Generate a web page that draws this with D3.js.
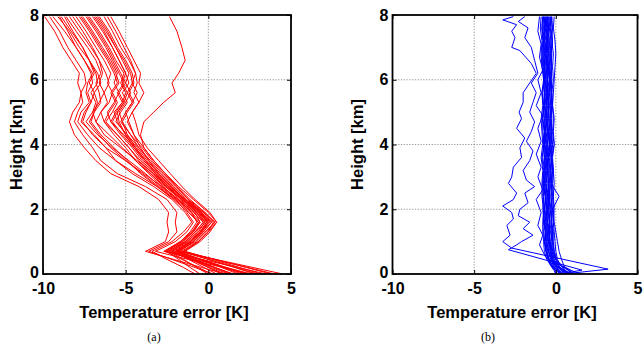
<!DOCTYPE html>
<html><head><meta charset="utf-8">
<script src="https://cdn.jsdelivr.net/npm/d3@7"></script>
<style>body{margin:0;background:#fff}svg{display:block}</style>
</head><body>
<svg id="c" width="643" height="351"></svg>
<script>
const xTicks = [-10, -5, 0, 5];
const yTicks = [0, 2, 4, 6, 8];
const xLabel = "Temperature error [K]";
const yLabel = "Height [km]";
const captions = ["(a)", "(b)"];

// Panel (a): shared height grid (km) and temperature error profiles (K)
const heightsA = [0, 0.2, 0.45, 0.7, 1.0, 1.3, 1.6, 1.9, 2.3, 2.7, 3.1, 3.5, 3.9, 4.3, 4.7, 5.0, 5.3, 5.6, 5.9, 6.2, 6.6, 7.0, 7.5, 7.95];
const profilesA = [
  [1.0, -0.4, -2.1, -3.8, -2.6, -2.4, -2.5, -2.4, -3.0, -4.2, -5.9, -6.8, -7.5, -8.1, -8.4, -8.2, -7.8, -7.7, -7.9, -7.8, -8.3, -8.8, -9.3, -9.9],
  [0.3, -0.8, -2.2, -3.6, -2.4, -1.9, -2.0, -1.9, -2.5, -3.8, -5.5, -6.5, -7.0, -7.6, -8.1, -7.9, -7.6, -7.7, -7.4, -7.5, -8.0, -8.5, -9.0, -9.6],
  [2.5, 0.9, -1.2, -3.2, -2.0, -1.3, -0.9, -1.3, -2.0, -3.1, -4.4, -5.6, -6.6, -7.3, -7.9, -7.7, -7.2, -7.4, -7.3, -7.0, -7.5, -8.0, -8.7, -9.4],
  [3.5, 1.8, -0.4, -2.6, -1.6, -0.9, -0.5, -1.0, -1.8, -2.8, -3.9, -5.0, -6.2, -7.0, -7.6, -7.4, -7.1, -6.9, -7.2, -6.9, -7.2, -7.8, -8.4, -9.1],
  [1.5, 0.4, -0.9, -2.2, -1.4, -0.8, -0.3, -0.9, -1.9, -2.9, -3.8, -4.8, -5.8, -6.7, -7.4, -7.0, -6.8, -7.1, -6.7, -6.8, -7.2, -7.6, -8.3, -8.9],
  [0.0, -0.7, -1.5, -2.4, -1.5, -0.9, -0.6, -1.2, -2.1, -3.1, -4.1, -4.9, -5.7, -6.5, -7.1, -6.9, -6.5, -6.6, -6.8, -6.5, -6.8, -7.3, -8.0, -8.6],
  [4.5, 2.7, 0.45, -1.8, -0.8, -0.2, 0.4, -0.3, -1.4, -2.4, -3.3, -4.3, -5.3, -6.3, -6.8, -7.0, -6.6, -6.3, -6.6, -6.4, -6.6, -7.1, -7.8, -8.4],
  [2.0, 0.9, -0.6, -2.0, -1.1, -0.5, -0.1, -0.7, -1.6, -2.6, -3.5, -4.4, -5.2, -6.0, -6.8, -6.5, -6.1, -6.3, -6.0, -6.2, -6.6, -7.0, -7.6, -8.2],
  [1.0, 0.05, -1.1, -2.3, -1.3, -0.6, -0.2, -0.8, -1.8, -2.8, -3.6, -4.4, -5.0, -5.7, -6.3, -6.5, -6.0, -5.8, -6.1, -5.9, -6.3, -6.8, -7.4, -8.0],
  [3.0, 1.65, 0.0, -1.7, -0.9, -0.3, 0.2, -0.5, -1.5, -2.5, -3.4, -4.1, -4.8, -5.5, -6.3, -6.0, -5.6, -5.9, -5.5, -5.7, -6.1, -6.6, -7.2, -7.8],
  [0.5, -0.25, -1.2, -2.1, -1.2, -0.5, 0.0, -0.6, -1.6, -2.5, -3.3, -4.0, -4.6, -5.3, -5.9, -6.1, -5.7, -5.4, -5.7, -5.5, -5.9, -6.4, -7.0, -7.6],
  [2.2, 1.0, -0.45, -1.9, -1.0, -0.4, 0.1, -0.4, -1.4, -2.3, -3.1, -3.8, -4.4, -5.1, -5.9, -5.6, -5.2, -5.5, -5.1, -5.4, -5.8, -6.2, -6.8, -7.4],
  [1.2, 0.2, -1.0, -2.2, -1.3, -0.7, -0.2, -0.6, -1.5, -2.2, -3.0, -3.7, -4.3, -5.0, -5.5, -5.7, -5.2, -5.0, -5.3, -5.1, -5.6, -6.0, -6.6, -7.2],
  [4.0, 2.4, 0.4, -1.6, -0.7, -0.1, 0.4, -0.2, -1.2, -2.0, -2.8, -3.5, -4.2, -4.9, -5.6, -5.3, -4.9, -5.2, -4.8, -5.0, -5.4, -5.8, -6.4, -7.0],
  [-0.5, -1.1, -1.8, -2.5, -1.6, -1.0, -0.5, -0.8, -1.7, -2.6, -3.2, -3.8, -4.4, -4.9, -5.2, -5.4, -5.0, -4.7, -5.0, -4.8, -5.2, -5.6, -6.2, -6.8],
  [1.8, 0.8, -0.5, -1.8, -0.9, -0.3, 0.2, -0.3, -1.3, -2.1, -2.9, -3.6, -4.2, -4.7, -5.2, -4.9, -4.5, -4.8, -4.5, -4.6, -5.0, -5.5, -6.0, -6.6],
  [2.8, 1.6, 0.0, -1.5, -0.6, 0.0, 0.5, 0.0, -0.9, -1.8, -2.6, -3.3, -3.9, -4.5, -4.8, -5.0, -4.6, -4.3, -4.6, -4.4, -4.8, -5.3, -5.8, -6.3],
  [0.8, 0.0, -1.0, -2.0, -1.1, -0.5, -0.1, -0.5, -1.4, -2.2, -3.0, -3.6, -4.1, -4.5, -4.9, -4.6, -4.2, -4.5, -4.3, -4.4, -4.7, -5.1, -5.6, -6.1],
  [3.2, 1.9, 0.25, -1.4, -0.5, 0.1, 0.5, 0.1, -0.8, -1.6, -2.3, -3.0, -3.7, -4.2, -4.4, -4.6, -4.2, -3.9, -4.2, -4.1, -4.5, -4.9, -5.4, -5.9],
  [1.5, 0.4, -1.0, -2.4, -1.4, -0.8, -0.3, -0.7, -1.6, -2.4, -3.2, -3.9, -4.5, -5.2, -5.8, -5.5, -5.1, -5.4, -5.0, -5.3, -5.7, -6.1, -6.7, -7.3],
  [2.3, 1.1, -0.4, -1.9, -1.1, -0.4, 0.0, -0.4, -1.2, -1.9, -2.6, -3.3, -3.9, -4.1, -3.9, -3.3, -2.7, -2.0, -2.2, -1.8, -1.4, -1.6, -1.9, -2.35],
  [2.6, 1.1, -0.8, -2.7, -1.7, -1.0, -0.6, -1.1, -2.0, -3.0, -4.0, -5.0, -5.9, -6.6, -7.2, -6.9, -6.7, -6.9, -6.5, -6.7, -7.2, -7.6, -8.2, -8.7],
  [0.2, -0.6, -1.6, -2.6, -1.7, -1.1, -0.7, -1.0, -1.9, -2.7, -3.5, -4.2, -4.8, -5.5, -6.2, -5.8, -5.5, -5.8, -5.4, -5.6, -6.0, -6.5, -7.1, -7.7],
  [3.8, 2.3, 0.4, -1.5, -0.6, 0.0, 0.3, -0.2, -1.1, -1.9, -2.7, -3.4, -4.0, -4.7, -5.3, -5.0, -4.6, -4.9, -4.6, -4.7, -5.1, -5.6, -6.1, -6.7],
  [-0.8, -1.5, -2.5, -3.4, -2.2, -1.5, -1.0, -1.4, -2.2, -3.3, -4.6, -5.6, -6.2, -6.9, -7.7, -7.5, -7.1, -7.3, -7.0, -7.1, -7.5, -8.0, -8.5, -9.0],
  [1.3, 0.4, -0.8, -1.9, -1.0, -0.4, 0.0, -0.5, -1.4, -2.3, -3.1, -3.8, -4.5, -5.0, -5.4, -5.5, -5.1, -4.9, -5.2, -5.0, -5.4, -5.8, -6.3, -6.9]
];

// Panel (b): bundle of profiles on a shared grid
const heightsB = [0, 0.1, 0.25, 0.45, 0.7, 1.0, 1.3, 1.6, 2.0, 2.4, 2.8, 3.2, 3.6, 4.0, 4.4, 4.8, 5.2, 5.6, 6.0, 6.4, 6.8, 7.2, 7.6, 7.95];
const profilesB = [
  [0.1, 0.0, -0.3, -0.55, -0.7, -0.75, -0.8, -0.8, -0.75, -0.85, -0.85, -0.8, -0.9, -0.8, -0.85, -0.9, -0.8, -0.85, -0.75, -0.85, -0.9, -0.85, -0.95, -0.9],
  [0.5, 0.2, -0.2, -0.45, -0.6, -0.7, -0.75, -0.7, -0.8, -0.75, -0.8, -0.75, -0.85, -0.7, -0.8, -0.8, -0.75, -0.85, -0.7, -0.8, -0.85, -0.8, -0.85, -0.8],
  [0.9, 0.5, 0.0, -0.4, -0.6, -0.65, -0.6, -0.75, -0.7, -0.65, -0.8, -0.7, -0.7, -0.75, -0.7, -0.8, -0.7, -0.7, -0.75, -0.7, -0.8, -0.7, -0.8, -0.75],
  [0.3, 0.1, -0.2, -0.4, -0.55, -0.6, -0.65, -0.6, -0.7, -0.6, -0.7, -0.65, -0.65, -0.7, -0.7, -0.65, -0.7, -0.65, -0.7, -0.65, -0.75, -0.7, -0.7, -0.75],
  [1.0, 0.6, 0.1, -0.3, -0.45, -0.55, -0.5, -0.65, -0.55, -0.6, -0.7, -0.6, -0.6, -0.65, -0.6, -0.7, -0.6, -0.6, -0.65, -0.6, -0.7, -0.6, -0.75, -0.65],
  [0.2, 0.1, -0.15, -0.3, -0.45, -0.5, -0.55, -0.5, -0.6, -0.5, -0.65, -0.55, -0.6, -0.55, -0.65, -0.55, -0.6, -0.55, -0.6, -0.55, -0.65, -0.6, -0.6, -0.65],
  [0.7, 0.4, 0.0, -0.25, -0.4, -0.45, -0.4, -0.55, -0.5, -0.45, -0.6, -0.5, -0.5, -0.55, -0.5, -0.6, -0.5, -0.5, -0.55, -0.5, -0.6, -0.5, -0.6, -0.55],
  [0.0, -0.05, -0.1, -0.25, -0.35, -0.4, -0.45, -0.4, -0.5, -0.4, -0.5, -0.45, -0.55, -0.4, -0.5, -0.5, -0.45, -0.55, -0.4, -0.5, -0.5, -0.55, -0.5, -0.55],
  [0.6, 0.35, 0.05, -0.2, -0.3, -0.45, -0.35, -0.5, -0.4, -0.5, -0.45, -0.5, -0.45, -0.5, -0.45, -0.55, -0.4, -0.5, -0.5, -0.45, -0.55, -0.45, -0.6, -0.5],
  [0.4, 0.25, 0.0, -0.15, -0.3, -0.35, -0.4, -0.35, -0.45, -0.35, -0.45, -0.4, -0.45, -0.35, -0.45, -0.4, -0.45, -0.4, -0.35, -0.45, -0.4, -0.5, -0.45, -0.5],
  [0.8, 0.5, 0.15, -0.1, -0.25, -0.3, -0.25, -0.4, -0.3, -0.4, -0.35, -0.3, -0.4, -0.35, -0.4, -0.35, -0.3, -0.4, -0.35, -0.4, -0.35, -0.4, -0.45, -0.4],
  [0.2, 0.15, 0.05, -0.1, -0.2, -0.25, -0.3, -0.25, -0.3, -0.25, -0.35, -0.3, -0.3, -0.35, -0.3, -0.35, -0.3, -0.3, -0.35, -0.3, -0.35, -0.3, -0.4, -0.35],
  [1.2, 0.8, 0.3, 0.0, -0.15, -0.2, -0.15, -0.25, -0.2, 0.2, -0.3, -0.2, -0.25, -0.2, -0.25, -0.3, -0.2, -0.25, -0.3, -0.25, -0.3, -0.2, -0.35, -0.3],
  [0.5, 0.35, 0.15, 0.0, -0.1, -0.15, -0.2, -0.15, -0.2, -0.15, -0.2, -0.15, -0.25, -0.1, -0.2, -0.15, -0.2, -0.25, -0.15, -0.2, -0.15, -0.25, -0.2, -0.25],
  [0.9, 0.6, 0.3, 0.1, 0.0, -0.05, -0.1, -0.15, -0.1, -0.15, -0.1, -0.15, -0.2, -0.1, -0.15, -0.1, -0.2, -0.15, -0.1, -0.05, 0.0, -0.05, -0.15, -0.1],
  [0.0, -0.1, -0.3, -0.45, -0.5, -0.6, -0.55, -0.7, -0.6, -0.65, -0.75, -0.6, -0.7, -0.6, -0.7, -0.65, -0.6, -0.7, -0.6, -0.7, -0.65, -0.75, -0.7, -0.7],
  [1.5, 1.0, 0.4, 0.0, -0.2, -0.35, -0.45, -0.6, -0.5, -0.55, -0.6, -0.5, -0.6, -0.5, -0.6, -0.55, -0.55, -0.6, -0.5, -0.55, -0.6, -0.55, -0.65, -0.6],
  [0.3, 0.2, -0.05, -0.2, -0.3, -0.4, -0.35, -0.4, -0.35, -0.45, -0.4, -0.35, -0.45, -0.4, -0.35, -0.45, -0.4, -0.45, -0.4, -0.4, -0.45, -0.4, -0.5, -0.45],
  [0.7, 0.45, 0.2, 0.05, -0.1, -0.2, -0.2, -0.3, -0.25, -0.3, -0.25, -0.3, -0.25, -0.3, -0.25, -0.3, -0.25, -0.3, -0.25, -0.3, -0.25, -0.3, -0.3, -0.3],
  [0.4, 0.1, -0.25, -0.5, -0.6, -0.7, -0.65, -0.75, -0.7, -0.8, -0.75, -0.7, -0.8, -0.75, -0.7, -0.8, -0.75, -0.8, -0.7, -0.75, -0.8, -0.75, -0.85, -0.8],
  [1.0, 0.8, 0.5, 0.35, 0.2, 0.1, 0.0, -0.1, -0.15, -0.2, -0.25, -0.2, -0.3, -0.25, -0.3, -0.25, -0.3, -0.25, -0.3, -0.25, -0.3, -0.2, -0.3, -0.25]
];

// Panel (b): three jagged outlier profiles, each with its own heights
const outlierHeightsB = [
  [0, 0.15, 0.8, 1.0, 1.2, 1.5, 1.7, 1.9, 2.1, 2.3, 2.5, 2.8, 3.0, 3.3, 3.6, 3.9, 4.2, 4.5, 4.8, 5.0, 5.3, 5.6, 5.9, 6.2, 6.5, 6.9, 7.0, 7.3, 7.5, 7.7, 7.85, 7.95],
  [0, 0.12, 0.75, 0.9, 1.0, 1.2, 1.4, 1.6, 1.8, 2.0, 2.2, 2.5, 2.7, 2.9, 3.2, 3.5, 3.8, 4.1, 4.4, 4.7, 5.0, 5.3, 5.6, 5.9, 6.2, 6.6, 7.0, 7.3, 7.6, 7.8, 7.95],
  [0, 0.1, 0.5, 0.9, 1.2, 1.5, 1.9, 2.3, 2.6, 3.0, 3.3, 3.7, 4.1, 4.5, 4.9, 5.2, 5.6, 6.0, 6.3, 6.7, 7.1, 7.5, 7.95]
];
const outlierValuesB = [
  [0.5, 3.2, -2.7, -3.25, -2.8, -3.0, -2.6, -2.7, -3.25, -2.6, -2.4, -2.9, -2.7, -2.6, -2.1, -2.2, -1.9, -2.4, -2.1, -2.25, -2.0, -2.0, -1.6, -1.2, -1.5, -2.2, -2.7, -2.5, -2.7, -2.4, -3.25, -2.6],
  [0.3, 1.6, -2.9, -2.4, -2.1, -1.4, -2.0, -1.6, -2.3, -2.2, -1.7, -1.9, -1.3, -1.8, -2.0, -1.6, -1.4, -1.8, -1.5, -1.3, -1.6, -1.4, -1.2, -1.5, -1.1, -1.3, -1.5, -1.9, -1.7, -2.3, -1.9],
  [0.6, 0.9, -0.6, -1.0, -0.8, -1.1, -0.9, -1.2, -0.8, -1.1, -0.9, -1.2, -0.9, -1.1, -0.8, -1.2, -0.9, -1.1, -0.8, -1.0, -0.9, -1.1, -1.0]
];

const svg = d3.select("#c");
const FONT = "'Liberation Sans', Arial, sans-serif";

function panel(opts) {
  const { left, right, top, bottom, series, color, caption, yLabelX } = opts;
  const x = d3.scaleLinear().domain([-10, 5]).range([left, right]);
  const y = d3.scaleLinear().domain([0, 8]).range([bottom, top]);
  const g = svg.append("g");
  const clipId = "clip" + caption.replace(/\W/g, "");
  svg.append("clipPath").attr("id", clipId).append("rect")
    .attr("x", left).attr("y", top).attr("width", right - left).attr("height", bottom - top);

  // grid
  const grid = g.append("g").attr("stroke", "#777").attr("stroke-width", 0.8).attr("stroke-dasharray", "1.2,1.6");
  xTicks.filter(t => t > -10 && t < 5).forEach(t =>
    grid.append("line").attr("x1", x(t)).attr("x2", x(t)).attr("y1", top).attr("y2", bottom));
  yTicks.filter(t => t > 0 && t < 8).forEach(t =>
    grid.append("line").attr("x1", left).attr("x2", right).attr("y1", y(t)).attr("y2", y(t)));

  // lines
  const line = d3.line().x(d => x(d[1])).y(d => y(d[0]));
  const lg = g.append("g").attr("clip-path", `url(#${clipId})`);
  series.forEach(s => {
    lg.append("path").datum(s.h.map((h, i) => [h, s.v[i]]))
      .attr("d", line).attr("fill", "none").attr("stroke", color).attr("stroke-width", 1);
  });

  // axes
  const fmt = d => d3.format("d")(d).replace("−", "-");
  const ax = (gen, tr) => {
    const a = g.append("g").attr("transform", tr).call(gen);
    a.select(".domain").remove();
    a.selectAll("line").attr("stroke", "#000");
    a.selectAll("text").attr("font-family", FONT).attr("font-weight", "bold").attr("font-size", 16).attr("fill", "#000");
    return a;
  };
  ax(d3.axisBottom(x).tickValues(xTicks).tickSize(-4).tickPadding(9).tickFormat(fmt), `translate(0,${bottom})`);
  const la = ax(d3.axisLeft(y).tickValues(yTicks).tickSize(-4).tickPadding(4).tickFormat(fmt), `translate(${left},0)`);
  la.selectAll("text").filter(d => d === 0).attr("dy", "0.2em");
  ax(d3.axisTop(x).tickValues(xTicks).tickSize(-4).tickFormat(""), `translate(0,${top})`);
  ax(d3.axisRight(y).tickValues(yTicks).tickSize(-4).tickFormat(""), `translate(${right},0)`);

  g.append("rect").attr("x", left).attr("y", top).attr("width", right - left).attr("height", bottom - top)
    .attr("fill", "none").attr("stroke", "#000").attr("stroke-width", 1.8);

  g.append("text").attr("x", (left + right) / 2 - 3).attr("y", 318).attr("text-anchor", "middle")
    .attr("font-family", FONT).attr("font-weight", "bold").attr("font-size", 16.5).text(xLabel);
  g.append("text").attr("transform", `translate(${yLabelX},${(top + bottom) / 2}) rotate(-90)`)
    .attr("text-anchor", "middle").attr("dy", "0.35em")
    .attr("font-family", FONT).attr("font-weight", "bold").attr("font-size", 16.5).text(yLabel);
  g.append("text").attr("x", opts.capX).attr("y", 341).attr("text-anchor", "middle")
    .attr("font-family", "'Liberation Serif', 'Times New Roman', serif").attr("font-size", 12).text(caption);
}

panel({
  left: 43, right: 291, top: 15, bottom: 274, color: "#ff0000", caption: captions[0], yLabelX: 16, capX: 154,
  series: profilesA.map(v => ({ h: heightsA, v }))
});
panel({
  left: 392.5, right: 637.5, top: 15, bottom: 274, color: "#0000ff", caption: captions[1], yLabelX: 357, capX: 488,
  series: profilesB.map(v => ({ h: heightsB, v })).concat(outlierValuesB.map((v, i) => ({ h: outlierHeightsB[i], v })))
});
</script>
</body></html>
